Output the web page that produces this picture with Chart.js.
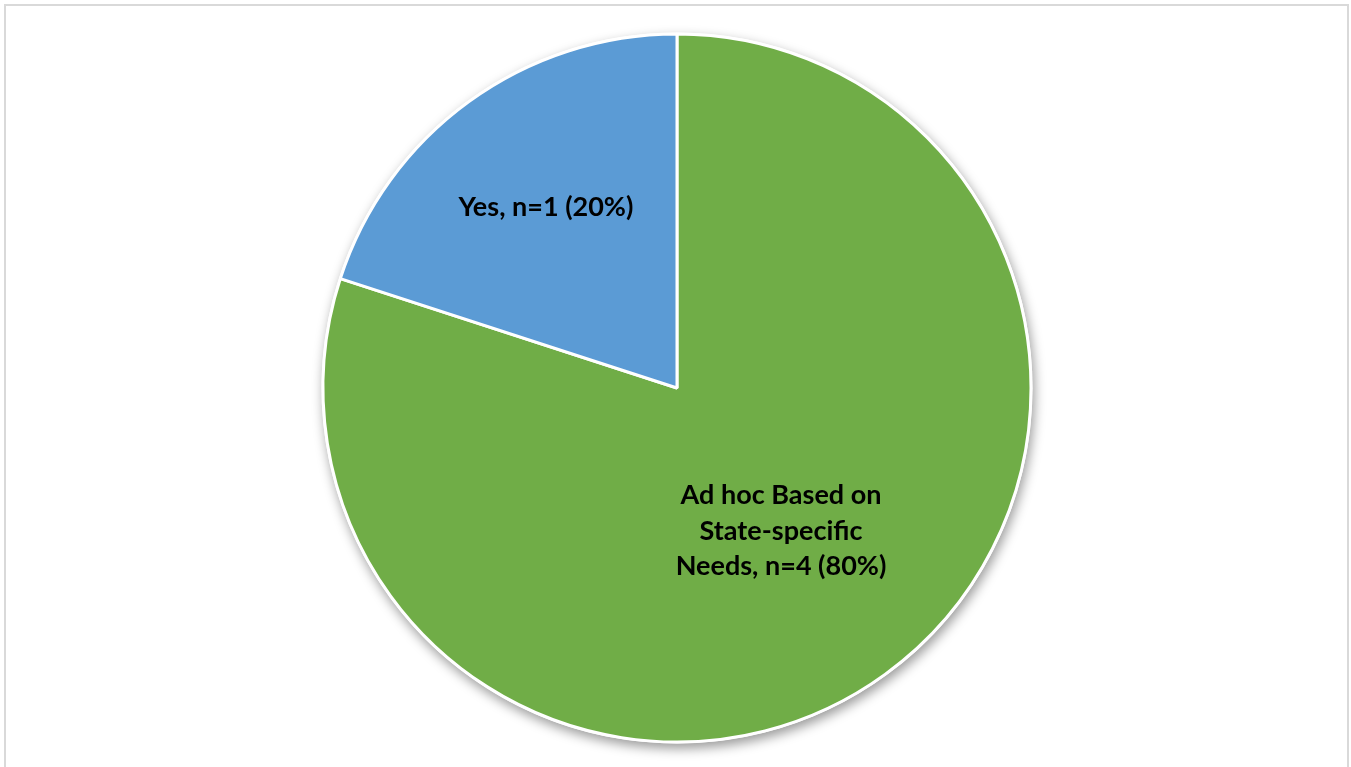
<!DOCTYPE html>
<html>
<head>
<meta charset="utf-8">
<script src="https://cdn.jsdelivr.net/npm/chart.js@4.4.1/dist/chart.umd.min.js"></script>
<style>
  html, body { margin: 0; padding: 0; background: #fff; overflow: hidden; }
  #frame {
    position: absolute; left: 4px; top: 4px; width: 1345px; height: 820px;
    border: 2px solid #d9d9d9; box-sizing: border-box;
  }
  #wrap { position: absolute; left: 0; top: 0; width: 1351px; height: 767px; }
</style>
</head>
<body>
<div id="frame"></div>
<div id="wrap"><canvas id="pie"></canvas></div>
<script>
const categories = ["Ad hoc Based on State-specific Needs", "Yes"];
const counts = [4, 1];
const shares = [80, 20];
const sliceLabels = [
    ["Ad hoc Based on", "State-specific", "Needs, n=4 (80%)"],
    ["Yes, n=1 (20%)"]
];
const sliceColors = ["#70ad47", "#5b9bd5"];
// how far out from the centre each label sits, as a fraction of the radius
const labelReach = [0.5, 0.63];

// soft drop shadow under the whole pie
const pieShadow = {
    id: "pieShadow",
    beforeDatasetsDraw(chart) {
        const arc = chart.getDatasetMeta(0).data[0];
        if (!arc) return;
        const ctx = chart.ctx;
        ctx.save();
        ctx.shadowColor = "rgba(0,0,0,0.4)";
        ctx.shadowBlur = 12;
        ctx.shadowOffsetX = 2;
        ctx.shadowOffsetY = 5;
        ctx.fillStyle = "#fff";
        ctx.beginPath();
        ctx.arc(arc.x, arc.y, arc.outerRadius + 1.5, 0, Math.PI * 2);
        ctx.fill();
        ctx.restore();
    }
};

const sliceText = {
    id: "sliceText",
    afterDatasetsDraw(chart) {
        const ctx = chart.ctx;
        const meta = chart.getDatasetMeta(0);
        ctx.save();
        ctx.fillStyle = "#000";
        ctx.font = "bold 27px Lato";
        ctx.textAlign = "center";
        ctx.textBaseline = "middle";
        meta.data.forEach((arc, i) => {
            const mid = (arc.startAngle + arc.endAngle) / 2;
            const r = arc.outerRadius * labelReach[i];
            const x = arc.x + Math.cos(mid) * r;
            const y = arc.y + Math.sin(mid) * r;
            const lines = sliceLabels[i];
            const lh = 35.5;
            lines.forEach((line, k) => {
                ctx.fillText(line, x, y + (k - (lines.length - 1) / 2) * lh);
            });
        });
        ctx.restore();
    }
};

new Chart(document.getElementById("pie"), {
    type: "pie",
    data: {
        labels: categories,
        datasets: [{
            data: counts,
            backgroundColor: sliceColors,
            borderColor: "#fff",
            borderWidth: 3
        }]
    },
    options: {
        responsive: true,
        maintainAspectRatio: false,
        animation: false,
        radius: 354,
        layout: { padding: { left: 3, right: 0, top: 9, bottom: 0 } },
        plugins: {
            legend: { display: false },
            tooltip: { enabled: false }
        }
    },
    plugins: [pieShadow, sliceText]
});
</script>
</body>
</html>
